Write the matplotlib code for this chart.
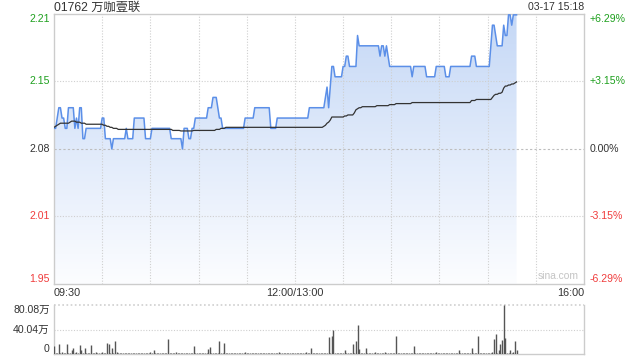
import matplotlib
matplotlib.use("Agg")
import matplotlib.pyplot as plt
import numpy as np
from matplotlib.patches import Polygon
from matplotlib.colors import LinearSegmentedColormap

plt.rcParams['font.family'] = ['Liberation Sans', 'Noto Sans CJK SC', 'DejaVu Sans']

title_text = "01762 万咖壹联"
stamp_text = "03-17 15:18"
watermark = "sina.com"
prev_close = 2.08
price_labels = ["2.21", "2.15", "2.08", "2.01", "1.95"]
pct_labels = ["+6.29%", "+3.15%", "0.00%", "-3.15%", "-6.29%"]
pct_levels = [6.29, 3.145, 0.0, -3.145, -6.29]
label_colors = ["#1ea01e", "#1ea01e", "#333333", "#f03c3c", "#f03c3c"]
time_labels = ["09:30", "12:00/13:00", "16:00"]
time_label_minutes = [0, 150, 330]
vol_labels = ["80.08万", "40.04万", "0"]
vol_levels = [80.08, 40.04, 0]

# per-minute last price (09:30 .. 15:18, lunch break removed)
price = [
    2.10, 2.10, 2.11, 2.12, 2.12, 2.11, 2.11, 2.10, 2.10, 2.12,
    2.12, 2.12, 2.12, 2.10, 2.11, 2.10, 2.12, 2.12, 2.09, 2.09,
    2.10, 2.10, 2.10, 2.10, 2.10, 2.10, 2.10, 2.10, 2.10, 2.10,
    2.11, 2.11, 2.09, 2.09, 2.09, 2.09, 2.08, 2.09, 2.09, 2.09,
    2.09, 2.09, 2.09, 2.09, 2.09, 2.10, 2.09, 2.09, 2.09, 2.09,
    2.11, 2.11, 2.11, 2.11, 2.11, 2.11, 2.11, 2.09, 2.09, 2.09,
    2.09, 2.10, 2.10, 2.10, 2.10, 2.10, 2.10, 2.10, 2.10, 2.10,
    2.10, 2.10, 2.10, 2.09, 2.09, 2.09, 2.09, 2.09, 2.09, 2.09,
    2.08, 2.10, 2.10, 2.10, 2.09, 2.09, 2.10, 2.10, 2.11, 2.11,
    2.11, 2.11, 2.11, 2.11, 2.11, 2.11, 2.12, 2.12, 2.12, 2.13,
    2.13, 2.13, 2.12, 2.11, 2.11, 2.10, 2.10, 2.10, 2.10, 2.10,
    2.10, 2.10, 2.10, 2.10, 2.10, 2.10, 2.10, 2.10, 2.10, 2.11,
    2.11, 2.11, 2.11, 2.11, 2.11, 2.12, 2.12, 2.12, 2.12, 2.12,
    2.12, 2.12, 2.12, 2.12, 2.12, 2.10, 2.10, 2.10, 2.10, 2.11,
    2.11, 2.11, 2.11, 2.11, 2.11, 2.11, 2.11, 2.11, 2.11, 2.11,
    2.11, 2.11, 2.11, 2.11, 2.11, 2.11, 2.11, 2.11, 2.11, 2.12,
    2.12, 2.12, 2.12, 2.12, 2.12, 2.12, 2.12, 2.12, 2.12, 2.13,
    2.14, 2.12, 2.14, 2.16, 2.16, 2.15, 2.15, 2.15, 2.15, 2.15,
    2.16, 2.16, 2.17, 2.17, 2.16, 2.16, 2.16, 2.16, 2.16, 2.19,
    2.18, 2.18, 2.18, 2.18, 2.18, 2.18, 2.18, 2.18, 2.18, 2.18,
    2.18, 2.18, 2.18, 2.17, 2.18, 2.18, 2.17, 2.18, 2.17, 2.16,
    2.16, 2.16, 2.16, 2.16, 2.16, 2.16, 2.16, 2.16, 2.16, 2.16,
    2.16, 2.16, 2.16, 2.15, 2.16, 2.16, 2.16, 2.16, 2.16, 2.16,
    2.16, 2.16, 2.15, 2.15, 2.15, 2.15, 2.15, 2.15, 2.16, 2.16,
    2.16, 2.16, 2.16, 2.16, 2.15, 2.15, 2.15, 2.16, 2.16, 2.16,
    2.16, 2.16, 2.16, 2.16, 2.16, 2.16, 2.16, 2.16, 2.16, 2.16,
    2.17, 2.17, 2.17, 2.16, 2.16, 2.16, 2.16, 2.16, 2.16, 2.16,
    2.16, 2.16, 2.18, 2.20, 2.20, 2.19, 2.18, 2.18, 2.18, 2.18,
    2.20, 2.19, 2.19, 2.21, 2.21, 2.20, 2.21, 2.21, 2.21,
]

# per-minute average price
avg_price = [
    2.101, 2.102, 2.103, 2.104, 2.105, 2.105, 2.105, 2.105, 2.105, 2.105,
    2.106, 2.107, 2.107, 2.107, 2.106, 2.106, 2.106, 2.105, 2.105, 2.105,
    2.104, 2.104, 2.104, 2.104, 2.104, 2.104, 2.104, 2.104, 2.104, 2.104,
    2.104, 2.103, 2.103, 2.102, 2.102, 2.101, 2.101, 2.100, 2.100, 2.100,
    2.099, 2.099, 2.099, 2.099, 2.099, 2.099, 2.099, 2.099, 2.099, 2.099,
    2.099, 2.099, 2.099, 2.099, 2.099, 2.099, 2.099, 2.099, 2.099, 2.099,
    2.099, 2.099, 2.099, 2.099, 2.099, 2.099, 2.099, 2.099, 2.099, 2.099,
    2.099, 2.099, 2.099, 2.099, 2.098, 2.098, 2.098, 2.098, 2.098, 2.0975,
    2.0975, 2.0975, 2.0975, 2.0975, 2.0975, 2.0975, 2.0975, 2.098, 2.098, 2.098,
    2.098, 2.098, 2.098, 2.098, 2.098, 2.098, 2.098, 2.098, 2.098, 2.098,
    2.098, 2.099, 2.099, 2.099, 2.100, 2.100, 2.100, 2.101, 2.101, 2.101,
    2.101, 2.101, 2.101, 2.101, 2.101, 2.101, 2.101, 2.101, 2.101, 2.101,
    2.101, 2.101, 2.101, 2.101, 2.101, 2.101, 2.101, 2.101, 2.101, 2.101,
    2.101, 2.101, 2.101, 2.101, 2.101, 2.101, 2.101, 2.101, 2.101, 2.101,
    2.101, 2.101, 2.101, 2.101, 2.101, 2.101, 2.101, 2.101, 2.101, 2.101,
    2.101, 2.101, 2.101, 2.101, 2.101, 2.101, 2.101, 2.101, 2.101, 2.101,
    2.101, 2.101, 2.101, 2.101, 2.101, 2.101, 2.101, 2.101, 2.102, 2.103,
    2.105, 2.106, 2.108, 2.111, 2.111, 2.111, 2.111, 2.111, 2.111, 2.111,
    2.111, 2.112, 2.112, 2.113, 2.113, 2.113, 2.113, 2.115, 2.118, 2.119,
    2.120, 2.120, 2.121, 2.121, 2.121, 2.121, 2.121, 2.121, 2.121, 2.121,
    2.121, 2.122, 2.122, 2.122, 2.122, 2.122, 2.122, 2.122, 2.122, 2.123,
    2.123, 2.123, 2.123, 2.124, 2.124, 2.124, 2.124, 2.124, 2.124, 2.124,
    2.124, 2.124, 2.124, 2.125, 2.125, 2.125, 2.125, 2.125, 2.125, 2.125,
    2.125, 2.125, 2.125, 2.125, 2.125, 2.125, 2.125, 2.125, 2.125, 2.125,
    2.125, 2.125, 2.125, 2.125, 2.125, 2.125, 2.125, 2.125, 2.125, 2.125,
    2.125, 2.125, 2.125, 2.125, 2.125, 2.125, 2.125, 2.125, 2.125, 2.125,
    2.127, 2.127, 2.127, 2.128, 2.128, 2.128, 2.128, 2.128, 2.128, 2.128,
    2.128, 2.128, 2.128, 2.130, 2.132, 2.133, 2.133, 2.134, 2.134, 2.135,
    2.139, 2.141, 2.141, 2.142, 2.142, 2.143, 2.143, 2.144, 2.145,
]

# per-minute volume (万股)
volume = [
    12.5, 2, 1.5, 16, 1, 4, 1.5, 1, 16, 2,
    1, 7, 10, 1.5, 4, 1, 15, 7, 1.5, 10,
    1, 1.5, 2, 14, 1, 1.5, 3, 1, 1, 1.5,
    4, 1, 1.5, 18, 17, 2, 10, 1, 21, 3,
    1.5, 1, 1, 2, 1, 1, 1.5, 2, 1, 1,
    1.5, 2, 1, 1, 1.5, 1, 1, 2, 1, 1.5,
    3, 1, 7, 1.5, 1, 1, 2, 1, 1.5, 1,
    1, 25, 2, 1.5, 1, 1, 2.5, 1, 1.5, 1,
    1.5, 1, 2, 1, 1, 1.5, 1, 12.5, 1, 1,
    1.5, 1, 1, 2, 1, 1.5, 8, 11, 1, 2,
    1.5, 1, 1, 21, 1, 1.5, 18.5, 1, 1, 1.5,
    1, 1, 2, 1, 1.5, 1, 1, 1.5, 1, 3,
    1, 1.5, 1, 1, 2, 1, 1, 1.5, 1, 1,
    1.5, 1, 1, 2, 1, 1.5, 1, 1, 1.5, 1,
    4, 1, 1.5, 1, 1, 2, 1, 1.5, 1, 1,
    1.5, 1, 1, 2, 1, 1.5, 1, 3, 1.5, 1,
    9, 1.5, 1, 2, 1, 1, 1.5, 2, 1, 1.5,
    2, 28.5, 1.5, 30, 38.5, 2, 1, 1.5, 1, 2,
    1, 7, 1.5, 1, 2, 1, 17, 2, 21, 48,
    8, 1.5, 2, 1, 10, 1.5, 1, 2, 1.5, 1,
    3, 1, 1.5, 2, 1, 1, 3, 1.5, 1, 2,
    1, 1.5, 1, 30, 1, 2, 1, 1.5, 1, 1,
    1.5, 1, 2, 1, 13, 1, 1.5, 1, 1, 2,
    1, 1.5, 1, 1, 2, 1, 1.5, 1, 4, 1,
    1, 1.5, 1, 2, 1, 1, 1.5, 1, 2, 1,
    1.5, 1, 7, 1, 1, 1.5, 1, 2, 1, 1,
    10, 1.5, 1, 1, 29.5, 1.5, 1, 2, 1, 1.5,
    1, 2, 1.5, 3, 24, 33, 2, 7, 17, 23,
    80.08, 26, 2, 1.5, 7, 1.5, 4, 21, 7,
]

minutes = np.arange(len(price))
W, H = 640, 360

fig = plt.figure(figsize=(6.4, 3.6), dpi=100)
fig.patch.set_facecolor("white")


def rect(l, t, r, b):
    return [l / W, 1 - b / H, (r - l) / W, (b - t) / H]


ax = fig.add_axes(rect(54, 14, 584, 284))
axv = fig.add_axes(rect(54, 305, 584, 354))

ymin = prev_close * (1 - pct_levels[0] / 100)
ymax = prev_close * (1 + pct_levels[0] / 100)
levels = [prev_close * (1 + p / 100) for p in pct_levels]

# gradient fill under price line
cmap = LinearSegmentedColormap.from_list("fill", ["#fcfdff", "#c5d8f6"])
grad = np.linspace(0, 1, 256).reshape(-1, 1)
im = ax.imshow(grad, extent=[0, 330, ymin, ymax], aspect="auto", origin="lower",
               cmap=cmap, zorder=1)
verts = [(minutes[0], ymin)] + list(zip(minutes, price)) + [(minutes[-1], ymin)]
poly = Polygon(verts, closed=True, transform=ax.transData, facecolor="none", edgecolor="none")
ax.add_patch(poly)
im.set_clip_path(poly)

grid_kw = dict(color="#cfcfcf", lw=0.8, ls=(0, (1, 1.5)), zorder=2)
for x in range(30, 330, 30):
    ax.axvline(x, **grid_kw)
for i, lv in enumerate(levels[1:-1]):
    if pct_levels[i + 1] == 0:
        ax.axhline(lv, color="#bdbdbd", lw=0.8, ls=(0, (2, 2)), zorder=2)
    else:
        ax.axhline(lv, **grid_kw)

ax.plot(minutes, price, color="#5b8fe8", lw=1.1, zorder=4)
ax.plot(minutes, avg_price, color="#333333", lw=0.9, zorder=5)

ax.set_xlim(0, 330)
ax.set_ylim(ymin, ymax)
ax.set_xticks([])
ax.set_yticks([])
for s in ax.spines.values():
    s.set_color("#cccccc")
    s.set_linewidth(1)

vals = ["top", "center", "center", "center", "bottom"]
for lv, lab, plab, c, va in zip(levels, price_labels, pct_labels, label_colors, vals):
    ax.text(-0.008, lv, lab, transform=ax.get_yaxis_transform(), ha="right", va=va,
            color=c, fontsize=7.6)
    ax.text(1.011, lv, plab, transform=ax.get_yaxis_transform(), ha="left", va=va,
            color=c, fontsize=7.6)

ax.text(0.99, 0.012, watermark, transform=ax.transAxes, ha="right", va="bottom",
        color="#c4c4c4", fontsize=7.4, zorder=6)

fig.text(54.5 / W, 1 - 7.5 / H, title_text, ha="left", va="center", fontsize=8.8, color="#333333")
fig.text(584 / W, 1 - 7.5 / H, stamp_text, ha="right", va="center", fontsize=7.6, color="#333333")

has = ["left", "center", "right"]
for m, lab, ha in zip(time_label_minutes, time_labels, has):
    ax.text(m, -0.033, lab, transform=ax.get_xaxis_transform(), ha=ha, va="center",
            fontsize=7.8, color="#333333")

# volume panel
axv.vlines(minutes, 0, volume, color="#555555", lw=1.0, zorder=3)
axv.set_xlim(0, 330)
axv.set_ylim(0, vol_levels[0])
axv.set_xticks([])
axv.set_yticks([])
axv.axhline(vol_levels[1], **grid_kw)
axv.axhline(vol_levels[0], color="#cfcfcf", lw=1.2, ls=(0, (1, 1.5)), zorder=2, clip_on=False)
axv.spines["top"].set_visible(False)
for k in ["left", "right", "bottom"]:
    axv.spines[k].set_color("#cccccc")
    axv.spines[k].set_linewidth(1)
vvas = ["top", "center", "bottom"]
for lv, lab, va in zip(vol_levels, vol_labels, vvas):
    axv.text(-0.008, lv, lab, transform=axv.get_yaxis_transform(), ha="right", va=va,
             fontsize=7.6, color="#333333")

fig.savefig("out.png", dpi=100, facecolor="white")
